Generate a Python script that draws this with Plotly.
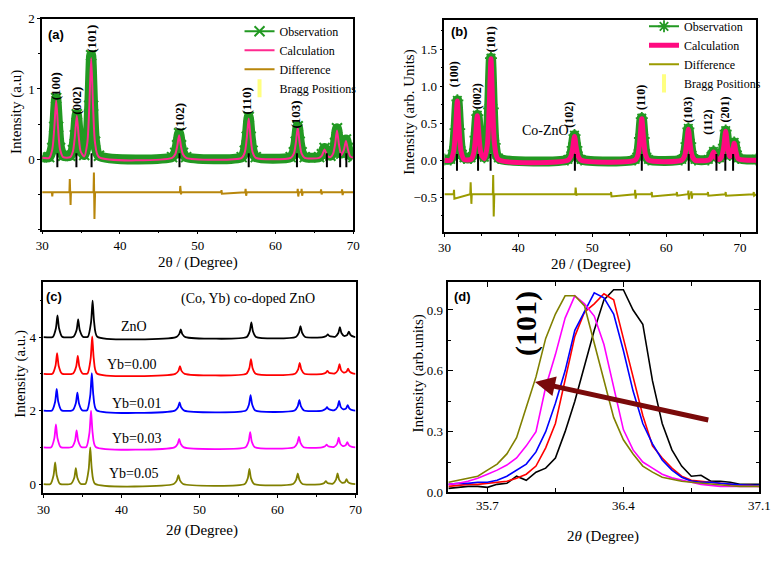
import plotly.graph_objects as go

W, H = 783, 573
SERIF = "Liberation Serif"
SANS = "Liberation Sans"

# ---------------- Panel (a): Rietveld, pure ZnO ----------------
tt_a = [30.0, 30.9, 31.3, 31.55, 31.8, 32.05, 32.3, 32.7, 33.6, 33.95, 34.2, 34.45, 34.7, 34.95,
        35.4, 35.8, 36.05, 36.3, 36.55, 36.8, 37.3, 46.7, 47.1, 47.35, 47.6, 47.85, 48.1, 48.5,
        55.65, 56.05, 56.3, 56.55, 56.8, 57.05, 57.45, 61.95, 62.35, 62.6, 62.85, 63.1, 63.35, 63.75,
        65.6, 65.95, 66.3, 66.65, 67.05, 67.4, 67.65, 67.9, 68.15, 68.45, 68.8, 69.05, 69.3, 69.6, 70.0]
obs_a = [0.03, 0.03, 0.16, 0.46, 0.87, 0.46, 0.16, 0.05, 0.05, 0.13, 0.34, 0.64, 0.34, 0.13,
         0.06, 0.25, 0.76, 1.48, 0.76, 0.25, 0.05, 0.03, 0.09, 0.2, 0.37, 0.2, 0.09, 0.03,
         0.03, 0.12, 0.32, 0.6, 0.32, 0.12, 0.03, 0.03, 0.1, 0.25, 0.47, 0.25, 0.1, 0.03,
         0.03, 0.07, 0.16, 0.07, 0.05, 0.1, 0.23, 0.44, 0.23, 0.08, 0.16, 0.28, 0.16, 0.06, 0.03]
calc_a = [0.02, 0.02, 0.14, 0.43, 0.84, 0.43, 0.14, 0.03, 0.03, 0.11, 0.32, 0.62, 0.32, 0.11,
          0.04, 0.23, 0.73, 1.44, 0.73, 0.23, 0.03, 0.02, 0.07, 0.18, 0.34, 0.18, 0.07, 0.02,
          0.02, 0.10, 0.30, 0.58, 0.30, 0.10, 0.02, 0.02, 0.08, 0.23, 0.45, 0.23, 0.08, 0.02,
          0.02, 0.05, 0.14, 0.05, 0.03, 0.08, 0.21, 0.41, 0.21, 0.06, 0.14, 0.26, 0.14, 0.04, 0.02]
diff_a_x = [30.0, 31.25, 31.3, 31.35, 33.5, 33.55, 33.65, 33.7, 36.6, 36.65, 36.72, 36.8,
            47.7, 47.75, 47.85, 47.9, 53.0, 53.05, 53.1, 56.1, 56.15, 56.22, 56.3, 62.8, 62.85,
            62.92, 63.0, 63.3, 63.35, 63.42, 63.5, 65.8, 65.85, 65.92, 66.0, 68.5, 68.55, 68.62, 68.7, 70.0]
diff_a_y = [-0.47, -0.47, -0.53, -0.47, -0.47, -0.28, -0.65, -0.47, -0.47, -0.19, -0.85, -0.47,
            -0.47, -0.38, -0.5, -0.47, -0.47, -0.44, -0.49, -0.47, -0.42, -0.52, -0.47, -0.47, -0.42,
            -0.53, -0.47, -0.47, -0.42, -0.52, -0.47, -0.47, -0.43, -0.5, -0.47, -0.47, -0.43, -0.51, -0.47, -0.47]
bragg_a = [31.95, 34.4, 36.35, 47.65, 56.55, 62.75, 66.6, 68.3, 69.1]
hkl_a = ["(100)", "(002)", "(101)", "(102)", "(110)", "(103)"]
hkl_a_x = [31.66, 34.46, 36.33, 47.58, 56.33, 62.58]
hkl_a_y = [1.04, 0.83, 1.72, 0.6, 0.82, 0.63]

# ---------------- Panel (b): Rietveld, Co-ZnO ----------------
tt_b = [30.0, 30.85, 31.25, 31.5, 31.75, 32.0, 32.25, 32.65, 33.6, 33.95, 34.2, 34.45, 34.7, 34.95,
        35.4, 35.8, 36.05, 36.3, 36.55, 36.8, 37.3, 46.7, 47.1, 47.35, 47.6, 47.85, 48.1, 48.5,
        55.8, 56.2, 56.45, 56.7, 56.95, 57.2, 57.6, 62.1, 62.5, 62.75, 63.0, 63.25, 63.5, 63.9,
        65.7, 66.05, 66.4, 66.75, 67.2, 67.55, 67.8, 68.05, 68.3, 68.6, 68.95, 69.2, 69.45, 69.75, 72.2]
obs_b = [0.01, 0.01, 0.13, 0.42, 0.81, 0.42, 0.13, 0.03, 0.03, 0.1, 0.32, 0.61, 0.32, 0.1,
         0.04, 0.22, 0.7, 1.38, 0.7, 0.22, 0.03, 0.01, 0.06, 0.18, 0.34, 0.18, 0.06, 0.01,
         0.01, 0.09, 0.3, 0.57, 0.3, 0.09, 0.01, 0.01, 0.07, 0.23, 0.43, 0.23, 0.07, 0.01,
         0.01, 0.05, 0.12, 0.05, 0.03, 0.08, 0.21, 0.4, 0.21, 0.07, 0.12, 0.24, 0.12, 0.03, 0.01]
calc_b = [0.0, 0.0, 0.12, 0.4, 0.8, 0.4, 0.12, 0.01, 0.01, 0.09, 0.3, 0.6, 0.3, 0.09,
          0.02, 0.2, 0.68, 1.37, 0.68, 0.2, 0.01, 0.0, 0.05, 0.16, 0.32, 0.16, 0.05, 0.0,
          0.0, 0.08, 0.28, 0.56, 0.28, 0.08, 0.0, 0.0, 0.06, 0.21, 0.42, 0.21, 0.06, 0.0,
          0.0, 0.03, 0.11, 0.03, 0.01, 0.06, 0.19, 0.39, 0.19, 0.05, 0.11, 0.23, 0.11, 0.02, 0.0]
diff_b_x = [30.0, 31.25, 31.3, 31.35, 33.5, 33.55, 33.65, 33.7, 36.55, 36.6, 36.67, 36.75,
            47.7, 47.75, 47.85, 47.9, 52.5, 52.55, 52.6, 55.75, 55.8, 55.87, 55.95, 58.0, 58.05, 58.1,
            61.4, 61.45, 61.5, 62.95, 63.0, 63.07, 63.15, 63.35, 63.4, 63.47, 63.55, 65.6, 65.65, 65.7,
            68.0, 68.05, 68.1, 71.8, 71.85, 71.9, 72.2]
diff_b_y = [-0.46, -0.46, -0.4, -0.52, -0.46, -0.3, -0.59, -0.46, -0.46, -0.2, -0.76, -0.46,
            -0.46, -0.37, -0.48, -0.46, -0.46, -0.43, -0.49, -0.46, -0.4, -0.52, -0.46, -0.46, -0.43, -0.49,
            -0.46, -0.43, -0.48, -0.46, -0.41, -0.53, -0.46, -0.46, -0.42, -0.52, -0.46, -0.46, -0.43, -0.48,
            -0.46, -0.43, -0.48, -0.46, -0.43, -0.48, -0.46]
bragg_b = [31.7, 34.55, 36.25, 47.65, 56.7, 63.05, 66.8, 68.0, 69.05]
hkl_b = ["(100)", "(002)", "(101)", "(102)", "(110)", "(103)", "(112)", "(201)"]
hkl_b_x = [31.4, 34.35, 36.24, 46.8, 56.7, 62.93, 65.7, 67.9]
hkl_b_y = [1.16, 0.86, 1.63, 0.61, 0.85, 0.68, 0.51, 0.68]

# ---------------- Panel (c): stacked XRD patterns ----------------
c_names = ["ZnO", "Yb=0.00", "Yb=0.01", "Yb=0.03", "Yb=0.05"]
c_offsets = [4, 3, 2, 1, 0]
c_colors = ["#000000", "#ff0000", "#0000ff", "#ff00ff", "#808000"]
c_x_zno = [30, 31.2, 31.6, 31.8, 32.0, 32.4, 33.85, 34.25, 34.45, 34.65, 35.05, 35.7, 36.1, 36.3, 36.5, 36.9,
           47.0, 47.4, 47.6, 47.8, 48.2, 56.05, 56.45, 56.65, 56.85, 57.25, 62.35, 62.75, 62.95, 63.15, 63.55,
           65.85, 66.25, 66.45, 66.65, 67.05, 67.4, 67.8, 68.0, 68.2, 68.55, 68.65, 68.95, 69.15, 69.35, 69.75, 70]
c_y_zno = [0, 0, 0.24, 0.59, 0.24, 0.01, 0.01, 0.19, 0.48, 0.19, 0.01, 0.01, 0.4, 0.99, 0.4, 0.01,
           0, 0.08, 0.21, 0.08, 0, 0, 0.16, 0.4, 0.16, 0, 0, 0.12, 0.3, 0.12, 0,
           0, 0.03, 0.07, 0.03, 0.01, 0.01, 0.11, 0.27, 0.11, 0.03, 0.03, 0.06, 0.15, 0.06, 0.01, 0]
c_x_yb000 = [30, 31.15, 31.55, 31.75, 31.95, 32.35, 33.8, 34.2, 34.4, 34.6, 35.0, 35.65, 36.05, 36.25, 36.45, 36.85,
             46.9, 47.3, 47.5, 47.7, 48.1, 56.0, 56.4, 56.6, 56.8, 57.2, 62.25, 62.65, 62.85, 63.05, 63.45,
             65.8, 66.2, 66.4, 66.6, 67.0, 67.35, 67.75, 67.95, 68.15, 68.5, 68.55, 68.85, 69.05, 69.25, 69.65, 70]
c_y_yb000 = [0, 0, 0.22, 0.56, 0.22, 0.01, 0.01, 0.2, 0.49, 0.2, 0.01, 0.01, 0.41, 1.02, 0.41, 0.01,
             0, 0.08, 0.21, 0.08, 0, 0, 0.16, 0.4, 0.16, 0, 0, 0.12, 0.3, 0.12, 0,
             0, 0.03, 0.08, 0.03, 0.01, 0.01, 0.1, 0.26, 0.1, 0.03, 0.03, 0.06, 0.14, 0.06, 0.01, 0]
c_x_yb001 = [30, 31.1, 31.5, 31.7, 31.9, 32.3, 33.75, 34.15, 34.35, 34.55, 34.95, 35.6, 36.0, 36.2, 36.4, 36.8,
             46.85, 47.25, 47.45, 47.65, 48.05, 55.95, 56.35, 56.55, 56.75, 57.15, 62.2, 62.6, 62.8, 63.0, 63.4,
             65.75, 66.15, 66.35, 66.55, 66.95, 67.3, 67.7, 67.9, 68.1, 68.45, 68.5, 68.8, 69.0, 69.2, 69.6, 70]
c_y_yb001 = [0, 0, 0.24, 0.59, 0.24, 0.01, 0.01, 0.2, 0.49, 0.2, 0.01, 0.01, 0.41, 1.02, 0.41, 0.01,
             0, 0.09, 0.22, 0.09, 0, 0, 0.17, 0.42, 0.17, 0, 0, 0.12, 0.29, 0.12, 0,
             0, 0.04, 0.09, 0.04, 0.01, 0.01, 0.1, 0.26, 0.1, 0.03, 0.03, 0.06, 0.15, 0.06, 0.01, 0]
c_x_yb003 = [30, 31.0, 31.4, 31.6, 31.8, 32.2, 33.65, 34.05, 34.25, 34.45, 34.85, 35.5, 35.9, 36.1, 36.3, 36.7,
             46.8, 47.2, 47.4, 47.6, 48.0, 55.9, 56.3, 56.5, 56.7, 57.1, 62.15, 62.55, 62.75, 62.95, 63.35,
             65.7, 66.1, 66.3, 66.5, 66.9, 67.25, 67.65, 67.85, 68.05, 68.4, 68.45, 68.75, 68.95, 69.15, 69.55, 70]
c_y_yb003 = [0, 0, 0.25, 0.62, 0.25, 0.01, 0.01, 0.18, 0.46, 0.18, 0.01, 0.01, 0.4, 1.0, 0.4, 0.01,
             0, 0.09, 0.23, 0.09, 0, 0, 0.16, 0.41, 0.16, 0, 0, 0.12, 0.29, 0.12, 0,
             0, 0.03, 0.07, 0.03, 0.01, 0.01, 0.1, 0.26, 0.1, 0.03, 0.03, 0.06, 0.14, 0.06, 0.01, 0]
c_x_yb005 = [30, 30.9, 31.3, 31.5, 31.7, 32.1, 33.55, 33.95, 34.15, 34.35, 34.75, 35.4, 35.8, 36.0, 36.2, 36.6,
             46.7, 47.1, 47.3, 47.5, 47.9, 55.8, 56.2, 56.4, 56.6, 57.0, 62.0, 62.4, 62.6, 62.8, 63.2,
             65.6, 66.0, 66.2, 66.4, 66.8, 67.1, 67.5, 67.7, 67.9, 68.3, 68.35, 68.65, 68.85, 69.05, 69.45, 70]
c_y_yb005 = [0, 0, 0.24, 0.59, 0.24, 0.01, 0.01, 0.17, 0.43, 0.17, 0.01, 0.01, 0.4, 1.0, 0.4, 0.01,
             0, 0.1, 0.24, 0.1, 0, 0, 0.16, 0.41, 0.16, 0, 0, 0.12, 0.29, 0.12, 0,
             0, 0.03, 0.08, 0.03, 0.01, 0.01, 0.12, 0.29, 0.12, 0.03, 0.03, 0.05, 0.13, 0.05, 0.01, 0]
c_xs = [c_x_zno, c_x_yb000, c_x_yb001, c_x_yb003, c_x_yb005]
c_ys = [c_y_zno, c_y_yb000, c_y_yb001, c_y_yb003, c_y_yb005]
c_label_x = [41.6, 41.4, 42.0, 42.0, 41.6]
c_label_y = [4.29, 3.26, 2.2, 1.24, 0.29]

# ---------------- Panel (d): (101) peak zoom ----------------
d_x = [35.50, 35.55, 35.60, 35.65, 35.70, 35.75, 35.80, 35.85, 35.90, 35.95, 36.00, 36.05, 36.10,
       36.15, 36.20, 36.25, 36.30, 36.35, 36.40, 36.45, 36.50, 36.55, 36.60, 36.65, 36.70, 36.75,
       36.80, 36.85, 36.90, 36.95, 37.00, 37.05, 37.10]
d_zno = [0.02, 0.025, 0.03, 0.03, 0.025, 0.04, 0.045, 0.08, 0.06, 0.1, 0.12, 0.17, 0.3, 0.45, 0.63, 0.8,
         0.95, 1.0, 1.0, 0.9, 0.83, 0.55, 0.34, 0.21, 0.13, 0.08, 0.085, 0.055, 0.055, 0.05, 0.04, 0.04, 0.04]
d_yb000 = [0.03, 0.035, 0.04, 0.04, 0.045, 0.05, 0.055, 0.07, 0.09, 0.13, 0.22, 0.34, 0.55, 0.77, 0.89,
           0.93, 0.98, 0.95, 0.76, 0.57, 0.38, 0.23, 0.17, 0.12, 0.08, 0.06, 0.055, 0.05, 0.045, 0.04,
           0.035, 0.035, 0.03]
d_yb001 = [0.04, 0.045, 0.045, 0.05, 0.05, 0.06, 0.08, 0.11, 0.14, 0.2, 0.3, 0.44, 0.6, 0.8, 0.89, 0.985,
           0.96, 0.88, 0.7, 0.5, 0.34, 0.24, 0.16, 0.11, 0.075, 0.056, 0.05, 0.05, 0.045, 0.04, 0.038,
           0.035, 0.035]
d_yb003 = [0.04, 0.045, 0.055, 0.07, 0.09, 0.11, 0.135, 0.17, 0.23, 0.3, 0.52, 0.68, 0.86, 0.97, 0.93,
           0.87, 0.73, 0.52, 0.31, 0.21, 0.15, 0.12, 0.09, 0.072, 0.06, 0.05, 0.04, 0.035, 0.03, 0.03,
           0.03, 0.03, 0.03]
d_yb005 = [0.05, 0.06, 0.07, 0.08, 0.11, 0.14, 0.19, 0.27, 0.42, 0.57, 0.76, 0.88, 0.97, 0.97, 0.92,
           0.74, 0.56, 0.37, 0.26, 0.19, 0.13, 0.10, 0.075, 0.065, 0.055, 0.05, 0.045, 0.04, 0.035,
           0.033, 0.03, 0.03, 0.03]
d_series = [d_zno, d_yb000, d_yb001, d_yb003, d_yb005]
arrow_tail = (36.845, 0.356)
arrow_head = (35.945, 0.545)

GREEN = "#229922"
PINK_A = "#ff2a8f"
PINK_B = "#ff0a80"
DIFF_A = "#b8860b"
DIFF_B = "#9b9b00"
YELLOW = "#ffff80"


def fx(p):
    return p / W


def fy(p):
    return 1 - p / H


def dom_x(p0, p1):
    return [fx(p0), fx(p1)]


def dom_y(top, bottom):
    return [fy(bottom), fy(top)]


fig = go.Figure()

# ---- (a) traces
fig.add_trace(go.Scatter(x=tt_a, y=obs_a, mode="lines", line=dict(color=GREEN, width=10, shape="spline", smoothing=0.7),
                         showlegend=False, hoverinfo="skip", xaxis="x", yaxis="y", legend="legend"))
fig.add_trace(go.Scatter(x=tt_a, y=obs_a, mode="lines+markers", name="Observation",
                         line=dict(color=GREEN, width=2, shape="spline", smoothing=0.7),
                         marker=dict(symbol="x-thin-open", size=10, color=GREEN, line=dict(color=GREEN, width=2)),
                         xaxis="x", yaxis="y", legend="legend"))
fig.add_trace(go.Scatter(x=tt_a, y=calc_a, mode="lines", name="Calculation",
                         line=dict(color=PINK_A, width=2, shape="spline", smoothing=0.7), xaxis="x", yaxis="y", legend="legend"))
fig.add_trace(go.Scatter(x=diff_a_x, y=diff_a_y, mode="lines", name="Difference",
                         line=dict(color=DIFF_A, width=2), xaxis="x", yaxis="y", legend="legend"))
fig.add_trace(go.Scatter(x=[None], y=[None], mode="markers", name="Bragg Positions",
                         marker=dict(symbol="line-ns-open", size=13, color=YELLOW, line=dict(color=YELLOW, width=4)),
                         xaxis="x", yaxis="y", legend="legend"))
fig.add_trace(go.Scatter(x=bragg_a, y=[-0.015] * len(bragg_a), mode="markers", showlegend=False,
                         marker=dict(symbol="line-ns-open", size=10, color="black", line=dict(color="black", width=2)),
                         xaxis="x", yaxis="y"))

# ---- (b) traces
fig.add_trace(go.Scatter(x=tt_b, y=obs_b, mode="lines", line=dict(color=GREEN, width=10, shape="spline", smoothing=0.7),
                         showlegend=False, hoverinfo="skip", xaxis="x2", yaxis="y2", legend="legend2"))
fig.add_trace(go.Scatter(x=tt_b, y=obs_b, mode="lines+markers", name="Observation",
                         line=dict(color=GREEN, width=2, shape="spline", smoothing=0.7),
                         marker=dict(symbol="asterisk-open", size=10, color=GREEN, line=dict(color=GREEN, width=1.8)),
                         xaxis="x2", yaxis="y2", legend="legend2"))
fig.add_trace(go.Scatter(x=tt_b, y=calc_b, mode="lines", name="Calculation",
                         line=dict(color=PINK_B, width=5, shape="spline", smoothing=0.7), xaxis="x2", yaxis="y2", legend="legend2"))
fig.add_trace(go.Scatter(x=diff_b_x, y=diff_b_y, mode="lines", name="Difference",
                         line=dict(color=DIFF_B, width=2), xaxis="x2", yaxis="y2", legend="legend2"))
fig.add_trace(go.Scatter(x=[None], y=[None], mode="markers", name="Bragg Positions",
                         marker=dict(symbol="line-ns-open", size=13, color=YELLOW, line=dict(color=YELLOW, width=4)),
                         xaxis="x2", yaxis="y2", legend="legend2"))
fig.add_trace(go.Scatter(x=bragg_b, y=[-0.03] * len(bragg_b), mode="markers", showlegend=False,
                         marker=dict(symbol="line-ns-open", size=12, color="black", line=dict(color="black", width=2)),
                         xaxis="x2", yaxis="y2"))

# ---- (c) traces
for name, off, col, xs, ys in zip(c_names, c_offsets, c_colors, c_xs, c_ys):
    fig.add_trace(go.Scatter(x=xs, y=[v + off for v in ys], mode="lines", name=name, showlegend=False,
                             line=dict(color=col, width=1.8, shape="spline", smoothing=0.6),
                             xaxis="x3", yaxis="y3"))

# ---- (d) traces
for name, col, ys in zip(c_names, c_colors, d_series):
    fig.add_trace(go.Scatter(x=d_x, y=ys, mode="lines", name=name, showlegend=False,
                             line=dict(color=col, width=1.6), xaxis="x4", yaxis="y4"))

tickfont = dict(family=SERIF, size=13, color="black")


def axis(**kw):
    base = dict(showline=True, linecolor="black", linewidth=1.5, mirror=True, ticks="outside",
                ticklen=3, tickwidth=1.3, tickcolor="black", showgrid=False, zeroline=False,
                tickfont=tickfont)
    base.update(kw)
    return base


layout = dict(
    width=W, height=H, margin=dict(l=0, r=0, t=0, b=0),
    paper_bgcolor="white", plot_bgcolor="white",
    xaxis=axis(domain=dom_x(36, 354.5), range=[30, 70], dtick=10, tick0=30, anchor="y",
               minor=dict(ticks="outside", ticklen=2, dtick=5, tickcolor="black")),
    yaxis=axis(domain=dom_y(12, 228.5), range=[-1, 2], tickvals=[0, 1, 2], anchor="x",
               minor=dict(ticks="outside", ticklen=2, dtick=0.5, tick0=0, tickcolor="black")),
    xaxis2=axis(domain=dom_x(447.7, 767), range=[30, 72.2], dtick=10, tick0=30, anchor="y2",
                minor=dict(ticks="outside", ticklen=2, dtick=5, tickcolor="black")),
    yaxis2=axis(domain=dom_y(13, 231), range=[-0.97, 1.9], tickvals=[-0.5, 0, 0.5, 1.0, 1.5],
                tickformat=".1f", anchor="x2",
                minor=dict(ticks="outside", ticklen=2, dtick=0.25, tick0=0, tickcolor="black")),
    xaxis3=axis(domain=dom_x(37.3, 356.7), range=[30, 70], dtick=10, tick0=30, anchor="y3",
                minor=dict(ticks="outside", ticklen=2, dtick=5, tickcolor="black")),
    yaxis3=axis(domain=dom_y(282.7, 499.3), range=[-0.25, 5.49], tickvals=[0, 2, 4], anchor="x3",
                minor=dict(ticks="outside", ticklen=2, dtick=1, tick0=0, tickcolor="black")),
    xaxis4=axis(domain=dom_x(451, 770), range=[35.495, 37.1], tickvals=[35.7, 36.4, 37.1], anchor="y4",
                ticks="inside", mirror="allticks", linewidth=2, ticklen=5,
                minor=dict(ticks="inside", ticklen=4, tickvals=[36.05, 36.75], tickcolor="black")),
    yaxis4=axis(domain=dom_y(282, 498.5), range=[0, 1.04], tickvals=[0, 0.3, 0.6, 0.9], tickformat=".1f",
                anchor="x4", ticks="inside", mirror="allticks", linewidth=2, ticklen=5,
                minor=dict(ticks="inside", ticklen=3, dtick=0.15, tick0=0, tickcolor="black")),
    legend=dict(x=fx(238), y=fy(10), xanchor="left", yanchor="top", bgcolor="rgba(0,0,0,0)",
                font=dict(family=SERIF, size=12, color="black"), tracegroupgap=0, itemwidth=30),
    legend2=dict(x=fx(652), y=fy(5), xanchor="left", yanchor="top", bgcolor="rgba(0,0,0,0)",
                 font=dict(family=SERIF, size=12, color="black"), tracegroupgap=0, itemwidth=30),
)
fig.update_layout(**layout)

ann = []


def paper_text(text, xpx, ypx, size=15, family=SERIF, angle=0, xanchor="center", bold=False):
    t = f"<b>{text}</b>" if bold else text
    ann.append(dict(text=t, x=fx(xpx), y=fy(ypx), xref="paper", yref="paper", showarrow=False,
                    textangle=angle, xanchor=xanchor, yanchor="middle",
                    font=dict(family=family, size=size, color="black")))


# panel labels
paper_text("(a)", 40, 28, size=13, family=SANS, xanchor="left", bold=True)
paper_text("(b)", 452, 25, size=13, family=SANS, xanchor="left", bold=True)
paper_text("(c)", 38, 297, size=13, family=SANS, xanchor="left", bold=True)
paper_text("(d)", 455, 297, size=13, family=SANS, xanchor="left", bold=True)

# axis titles
paper_text("2θ / (Degree)", 196, 262, size=15)
paper_text("Intensity (a.u)", 9, 108, size=15, angle=-90)
paper_text("2θ / (Degree)", 598, 264, size=15)
paper_text("Intensity (arb. Units)", 412, 108, size=15, angle=-90)
paper_text("2<i>θ</i> (Degree)", 200, 538, size=15)
paper_text("Intensity (a.u.)", 13, 377, size=15, angle=-90)
paper_text("2<i>θ</i> (Degree)", 610, 544, size=15)
paper_text("Intensity (arb.units)", 421, 376, size=15, angle=-90)

# hkl labels
for t, x, y in zip(hkl_a, hkl_a_x, hkl_a_y):
    ann.append(dict(text=f"<b>{t}</b>", x=x, y=y, xref="x", yref="y", showarrow=False, textangle=-90,
                    font=dict(family=SERIF, size=13, color="black")))
for t, x, y in zip(hkl_b, hkl_b_x, hkl_b_y):
    ann.append(dict(text=f"<b>{t}</b>", x=x, y=y, xref="x2", yref="y2", showarrow=False, textangle=-90,
                    font=dict(family=SERIF, size=12, color="black")))
ann.append(dict(text="Co-ZnO", x=43.7, y=0.4, xref="x2", yref="y2", showarrow=False,
                font=dict(family=SERIF, size=14, color="black")))

# (c) labels
ann.append(dict(text="(Co, Yb) co-doped ZnO", x=56.2, y=5.03, xref="x3", yref="y3", showarrow=False,
                font=dict(family=SERIF, size=14, color="black")))
for t, x, y in zip(c_names, c_label_x, c_label_y):
    ann.append(dict(text=t, x=x, y=y, xref="x3", yref="y3", showarrow=False,
                    font=dict(family=SERIF, size=14, color="black")))

# (d) label and arrow
ann.append(dict(text="<b>(101)</b>", x=35.895, y=0.833, xref="x4", yref="y4", showarrow=False, textangle=-90,
                font=dict(family=SERIF, size=30, color="black")))
ann.append(dict(text="", x=arrow_head[0], y=arrow_head[1], ax=arrow_tail[0], ay=arrow_tail[1],
                xref="x4", yref="y4", axref="x4", ayref="y4", showarrow=True, arrowhead=2,
                arrowsize=0.8, arrowwidth=5, arrowcolor="#7a0a0a"))

fig.update_layout(annotations=ann)
post = (
    "document.documentElement.style.margin='0';document.body.style.margin='0';"
    "document.documentElement.style.overflow='hidden';document.body.style.overflow='hidden';"
    "var gd=document.querySelector('.plotly-graph-div');"
    "if(gd){gd.style.position='fixed';gd.style.left='0px';gd.style.top='0px';}"
)
fig.write_html("out.html", config={"displayModeBar": False}, post_script=post)
